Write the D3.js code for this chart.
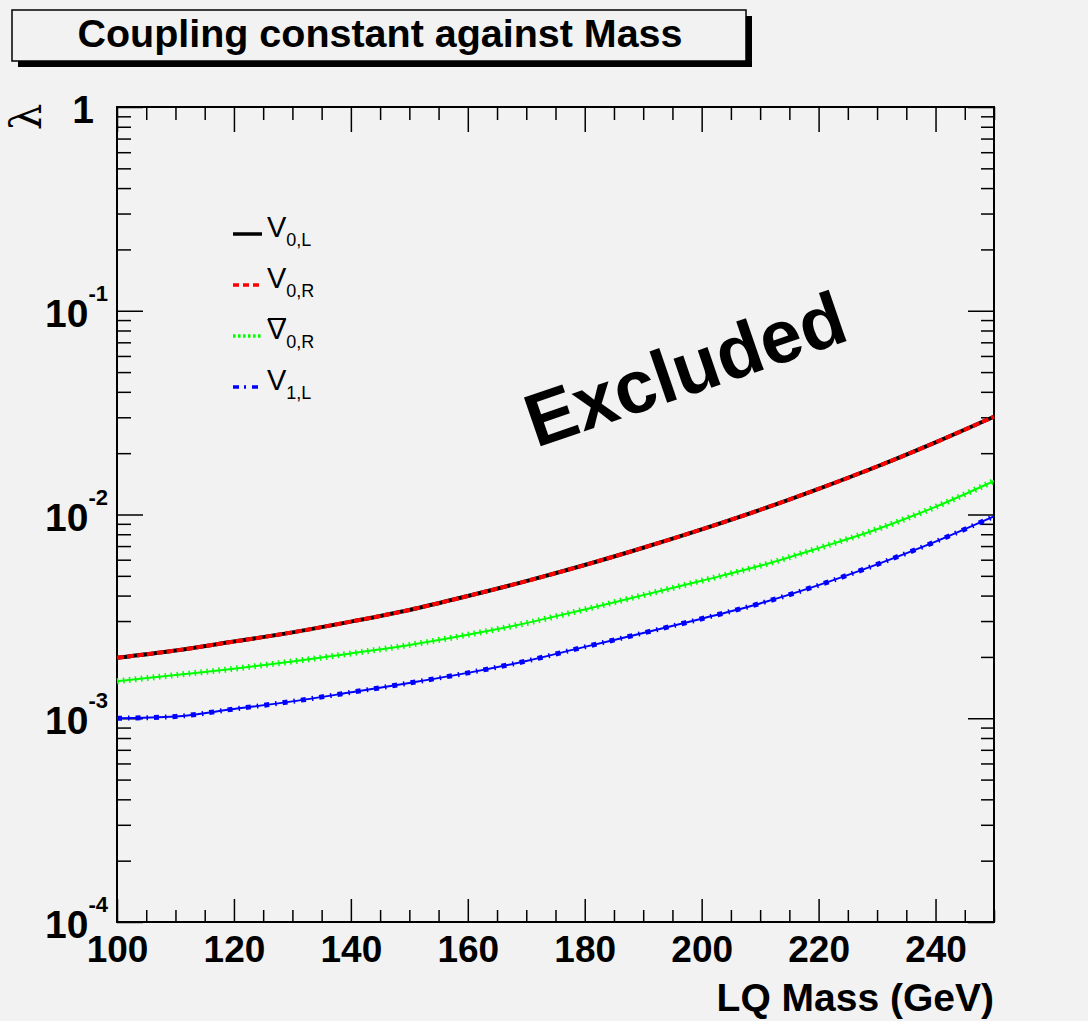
<!DOCTYPE html>
<html>
<head>
<meta charset="utf-8">
<script src="https://cdn.jsdelivr.net/npm/d3@7"></script>
<style>
  body { margin: 0; background: #f2f2f2; }
  svg { display: block; font-family: "Liberation Sans", Arial, Helvetica, sans-serif; }
</style>
</head>
<body>
<div id="chart"></div>
<script>
// LQ mass (GeV) and coupling limits
const masses = [100, 110, 120, 130, 140, 150, 160, 170, 180, 190, 200, 210, 220, 230, 240, 250];
const v0L    = [1.98e-3, 2.15e-3, 2.38e-3, 2.64e-3, 2.98e-3, 3.40e-3, 3.98e-3, 4.71e-3, 5.65e-3, 6.87e-3, 8.45e-3, 1.054e-2, 1.337e-2, 1.72e-2, 2.26e-2, 3.02e-2];
const v0R    = [1.98e-3, 2.15e-3, 2.38e-3, 2.64e-3, 2.98e-3, 3.40e-3, 3.98e-3, 4.71e-3, 5.65e-3, 6.87e-3, 8.45e-3, 1.054e-2, 1.337e-2, 1.72e-2, 2.26e-2, 3.02e-2];
const v0Rbar = [1.52e-3, 1.63e-3, 1.75e-3, 1.90e-3, 2.08e-3, 2.29e-3, 2.57e-3, 2.93e-3, 3.42e-3, 4.02e-3, 4.73e-3, 5.60e-3, 6.84e-3, 8.47e-3, 1.09e-2, 1.46e-2];
const v1L    = [1.00e-3, 1.02e-3, 1.11e-3, 1.21e-3, 1.34e-3, 1.49e-3, 1.67e-3, 1.91e-3, 2.24e-3, 2.62e-3, 3.08e-3, 3.66e-3, 4.50e-3, 5.69e-3, 7.36e-3, 9.79e-3];

const xTicks = [100, 120, 140, 160, 180, 200, 220, 240];
const yExponents = [-4, -3, -2, -1, 0];
const legendSubs = ["0,L", "0,R", "0,R", "1,L"];

let width = 1088, height = 1021;
let pLeft = 117, pRight = 994, pTop = 107, pBottom = 922;

let svg = d3.select("#chart")
    .append("svg")
    .attr("width", width)
    .attr("height", height);

svg.append("rect")
    .attr("width", width).attr("height", height)
    .attr("fill", "#f2f2f2");

// scales
let x = d3.scaleLinear().domain([100, 250]).range([pLeft, pRight]);
let y = d3.scaleLog().domain([1e-4, 1]).range([pBottom, pTop]);

let minorX = d3.range(100, 251, 5).filter(d => d % 20 !== 0);
let majorY = yExponents.map(e => Math.pow(10, e));
let minorY = [];
yExponents.slice(0, -1).forEach(e => {
    for (let k = 2; k <= 9; k++) minorY.push(k * Math.pow(10, e));
});

function tickGroup(axis, tx, ty) {
    let g = svg.append("g")
        .attr("transform", `translate(${tx},${ty})`)
        .call(axis);
    g.select(".domain").remove();
    g.selectAll(".tick line").attr("stroke", "#000").attr("stroke-width", 1.5);
    return g;
}

// x axis (bottom + top), ticks pointing inward
let xb = tickGroup(d3.axisBottom(x).tickValues(xTicks).tickSize(-23).tickPadding(14).tickFormat(d3.format("d")), 0, pBottom);
xb.selectAll("text")
    .attr("fill", "#000")
    .style("font-size", "37px")
    .style("font-weight", "bold");
tickGroup(d3.axisBottom(x).tickValues(minorX).tickSize(-12).tickFormat(""), 0, pBottom);
tickGroup(d3.axisTop(x).tickValues(xTicks).tickSize(-25).tickFormat(""), 0, pTop);
tickGroup(d3.axisTop(x).tickValues(minorX).tickSize(-13).tickFormat(""), 0, pTop);

// y axis (left + right)
tickGroup(d3.axisLeft(y).tickValues(majorY).tickSize(-26).tickFormat(""), pLeft, 0);
tickGroup(d3.axisLeft(y).tickValues(minorY).tickSize(-14).tickFormat(""), pLeft, 0);
tickGroup(d3.axisRight(y).tickValues(majorY).tickSize(-26).tickFormat(""), pRight, 0);
tickGroup(d3.axisRight(y).tickValues(minorY).tickSize(-13).tickFormat(""), pRight, 0);

// y tick labels with exponents
yExponents.forEach(e => {
    let v = Math.pow(10, e);
    let t = svg.append("text")
        .attr("y", y(v) + 16)
        .attr("text-anchor", "end")
        .style("font-size", "39px")
        .style("font-weight", "bold");
    if (e === 0) {
        t.attr("x", 94).text("1");
    } else {
        t.attr("x", 108);
        t.append("tspan").text("10");
        t.append("tspan")
            .attr("dy", -26)
            .style("font-size", "22px")
            .text(String(e));
    }
});

// frame
svg.append("rect")
    .attr("x", pLeft).attr("y", pTop)
    .attr("width", pRight - pLeft).attr("height", pBottom - pTop)
    .attr("fill", "none")
    .attr("stroke", "#000")
    .attr("stroke-width", 2);

// axis titles
svg.append("text")
    .attr("x", pRight).attr("y", 1011)
    .attr("text-anchor", "end")
    .style("font-size", "39px")
    .style("font-weight", "bold")
    .text("LQ Mass (GeV)");

svg.append("text")
    .attr("transform", "translate(41,117) rotate(-90)")
    .attr("text-anchor", "middle")
    .style("font-size", "42px")
    .style("font-family", "'DejaVu Serif', serif")
    .text("λ");

// curves
let line = vals => d3.line()
    .x((d, i) => x(masses[i]))
    .y(d => y(d))
    .curve(d3.curveMonotoneX)(vals);

let plot = svg.append("g");

// V1,L : blue dash-dot with markers
plot.append("path").attr("d", line(v1L))
    .attr("fill", "none").attr("stroke", "#0000ff").attr("stroke-width", 2);
plot.append("path").attr("d", line(v1L))
    .attr("fill", "none").attr("stroke", "#0000ff").attr("stroke-width", 5)
    .attr("stroke-dasharray", "5 6 1.5 6");

// bar V0,R : green dotted with crosses
plot.append("path").attr("d", line(v0Rbar))
    .attr("fill", "none").attr("stroke", "#00ff00").attr("stroke-width", 2);
plot.append("path").attr("d", line(v0Rbar))
    .attr("fill", "none").attr("stroke", "#00ff00").attr("stroke-width", 6)
    .attr("stroke-dasharray", "1.5 4.5");

// V0,L solid black, V0,R dashed red on top
plot.append("path").attr("d", line(v0L))
    .attr("fill", "none").attr("stroke", "#000").attr("stroke-width", 4);
plot.append("path").attr("d", line(v0R))
    .attr("fill", "none").attr("stroke", "#ff0000").attr("stroke-width", 4)
    .attr("stroke-dasharray", "7 3");

// legend
let legendStyles = [
    { color: "#000", dash: null },
    { color: "#ff0000", dash: "6 4" },
    { color: "#00ff00", dash: "2.5 2.5" },
    { color: "#0000ff", dash: "6 5 2 6" }
];
legendSubs.forEach((s, i) => {
    let ly = 234 + i * 51;
    svg.append("line")
        .attr("x1", 233).attr("x2", 262)
        .attr("y1", ly).attr("y2", ly)
        .attr("stroke", legendStyles[i].color)
        .attr("stroke-width", 3.5)
        .attr("stroke-dasharray", legendStyles[i].dash);
    let t = svg.append("text")
        .attr("x", 267).attr("y", ly + 3)
        .style("font-size", "29px");
    t.append("tspan").text("V");
    t.append("tspan").attr("dy", 9).style("font-size", "18px").text(s);
    if (i === 2) {
        svg.append("line")
            .attr("x1", 268).attr("x2", 286)
            .attr("y1", ly - 17).attr("y2", ly - 17)
            .attr("stroke", "#000").attr("stroke-width", 2);
    }
});

// excluded label
svg.append("text")
    .attr("transform", "translate(536,448) rotate(-19)")
    .style("font-size", "75px")
    .style("font-weight", "bold")
    .text("Excluded");

// title box with shadow
svg.append("rect")
    .attr("x", 18).attr("y", 16).attr("width", 734).attr("height", 51)
    .attr("fill", "#000");
svg.append("rect")
    .attr("x", 12).attr("y", 10).attr("width", 734).attr("height", 51)
    .attr("fill", "#f2f2f2").attr("stroke", "#000").attr("stroke-width", 1.5);
svg.append("text")
    .attr("x", 380).attr("y", 47)
    .attr("text-anchor", "middle")
    .style("font-size", "38px")
    .style("font-weight", "bold")
    .attr("textLength", 605)
    .attr("lengthAdjust", "spacingAndGlyphs")
    .text("Coupling constant against Mass");
</script>
</body>
</html>
